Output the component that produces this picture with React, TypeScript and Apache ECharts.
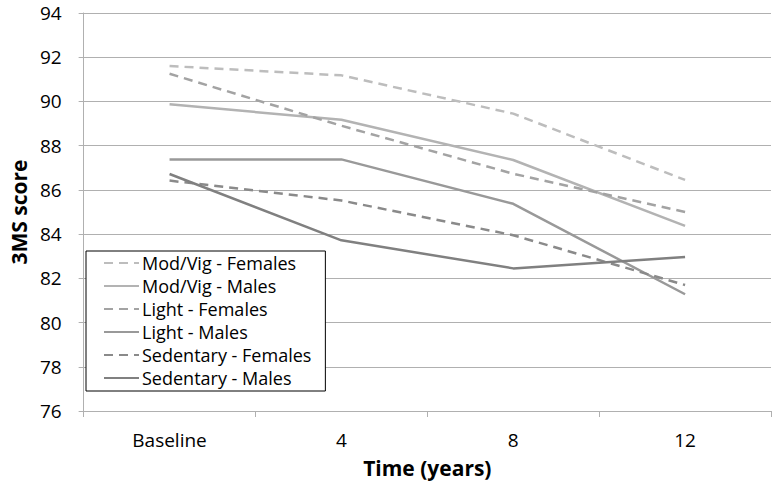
import React, { useEffect, useRef } from "react";
import * as echarts from "echarts";

const categories = ["Baseline", "4", "8", "12"];
const seriesNames = [
  "Mod/Vig - Females",
  "Mod/Vig - Males",
  "Light - Females",
  "Light - Males",
  "Sedentary - Females",
  "Sedentary - Males",
];
const modVigFemales = [91.6, 91.18, 89.45, 86.45];
const modVigMales = [89.87, 89.17, 87.35, 84.37];
const lightFemales = [91.25, 88.9, 86.73, 85.0];
const lightMales = [87.38, 87.38, 85.37, 81.28];
const sedentaryFemales = [86.42, 85.52, 83.95, 81.7];
const sedentaryMales = [86.72, 83.72, 82.45, 82.97];
const yTicks = { min: 76, max: 94, interval: 2 };

const seriesData = [modVigFemales, modVigMales, lightFemales, lightMales, sedentaryFemales, sedentaryMales];
const colors = ["#bdbdbd", "#b3b3b3", "#a3a3a3", "#999999", "#8a8a8a", "#808080"];
const dashed = [true, false, true, false, true, false];

const FONT = "'Open Sans', sans-serif";

export default function App() {
  const ref = useRef<HTMLDivElement>(null);
  useEffect(() => {
    if (!ref.current) return;
    const chart = echarts.init(ref.current, undefined, { renderer: "svg" });
    chart.setOption({
      animation: false,
      backgroundColor: "#ffffff",
      textStyle: { fontFamily: FONT },
      grid: { left: 75, right: 1, top: 13, bottom: 80, containLabel: false },
      legend: {
        orient: "vertical",
        left: 86,
        top: 251,
        data: seriesNames,
        borderColor: "#000000",
        borderWidth: 1,
        backgroundColor: "#ffffff",
        padding: [2, 14, 3, 17],
        itemGap: 3,
        itemWidth: 35,
        itemHeight: 14,
        itemStyle: { opacity: 0, borderWidth: 0 },
        textStyle: { fontFamily: FONT, fontSize: 18, color: "#000000", lineHeight: 20, padding: [0, 0, 0, -2] },
      },
      xAxis: {
        type: "category",
        data: categories,
        boundaryGap: true,
        name: "Time (years)",
        nameLocation: "middle",
        nameGap: 46,
        nameTextStyle: { fontFamily: FONT, fontSize: 21, fontWeight: "bold", color: "#000000" },
        axisLine: { show: true, lineStyle: { color: "#b0b0b0", width: 1 } },
        axisTick: { show: true, length: 6, lineStyle: { color: "#b0b0b0" } },
        axisLabel: { fontFamily: FONT, fontSize: 19, color: "#000000", margin: 19 },
        splitLine: { show: false },
      },
      yAxis: {
        type: "value",
        min: yTicks.min,
        max: yTicks.max,
        interval: yTicks.interval,
        name: "3MS score",
        nameLocation: "middle",
        nameGap: 48,
        nameRotate: 90,
        nameTextStyle: { fontFamily: FONT, fontSize: 21, fontWeight: "bold", color: "#000000" },
        axisLine: { show: true, lineStyle: { color: "#b0b0b0", width: 1 } },
        axisTick: { show: true, length: 5, lineStyle: { color: "#b0b0b0" } },
        axisLabel: { fontFamily: FONT, fontSize: 19, lineHeight: 20, color: "#000000", margin: 22 },
        splitLine: { show: true, lineStyle: { color: "#b0b0b0", width: 1 } },
      },
      series: seriesNames.map((name, i) => ({
        name,
        type: "line",
        data: seriesData[i],
        symbol: "none",
        color: colors[i],
        lineStyle: { color: colors[i], width: 2.5, type: dashed[i] ? [9, 6] : "solid" },
        z: 2,
      })),
    });
    return () => chart.dispose();
  }, []);
  return <div ref={ref} style={{ position: "fixed", left: 0, top: 0, width: 772, height: 491 }} />;
}
